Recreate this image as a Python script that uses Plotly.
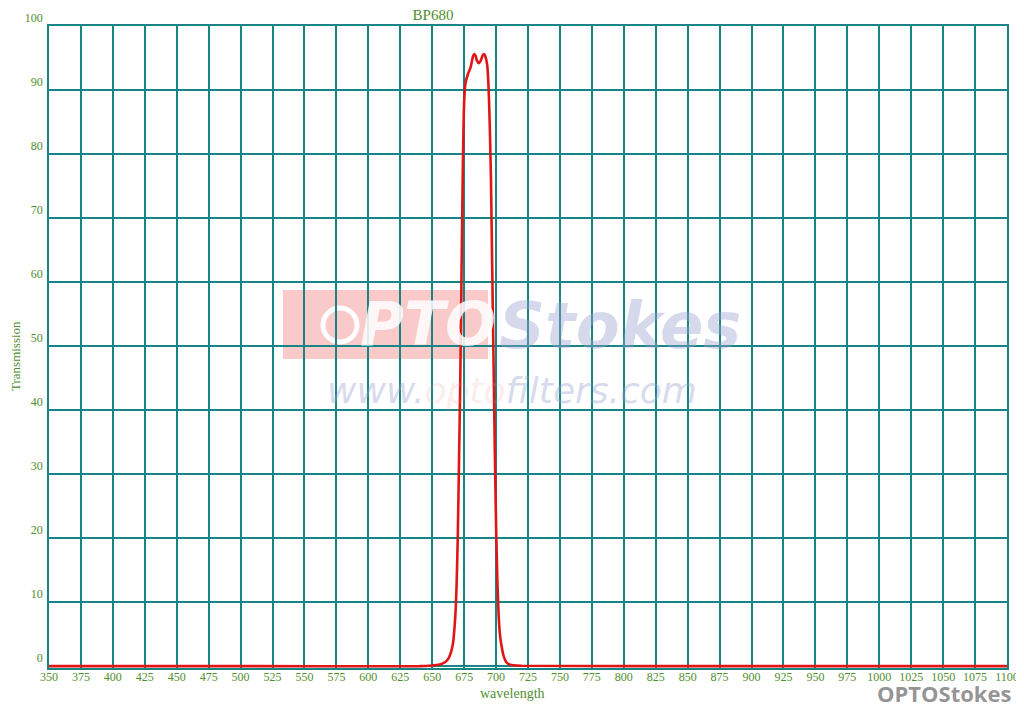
import plotly.graph_objects as go

wavelength = [350, 500, 640, 650, 655, 660, 663, 666, 668, 669, 670, 671, 672, 673, 674, 675,
              676, 678, 680, 682, 683, 684, 685, 686.5, 688, 689.5, 690.5, 691.5, 693, 694,
              695, 696, 697, 698, 699, 700, 701, 702, 703, 704, 706, 708, 711, 720, 900, 1100]
transmission = [0, 0, 0, 0.1, 0.2, 0.6, 1.3, 3.2, 7.5, 12, 20, 32, 45, 62, 78, 88,
                 91, 92.5, 93.5, 95.3, 95.6, 95.3, 94.6, 94.2, 94.6, 95.4, 95.6, 95.3, 94, 91,
                 85, 76, 62, 48, 34, 22, 13.5, 8, 5, 3.5, 1.5, 0.6, 0.2, 0.05, 0, 0]

x_ticks = list(range(350, 1101, 25))
y_ticks = list(range(0, 101, 10))

grid = "#168585"
green = "#4f8f2f"
serif = "Liberation Serif"

# page body has an 8px margin, so the figure is drawn 8px smaller and offset
W, H = 1016, 697

fig = go.Figure()
fig.add_trace(go.Scatter(x=wavelength, y=transmission, mode="lines",
                         line=dict(color="#e01515", width=2.6, shape="spline", smoothing=0.6),
                         hoverinfo="skip", showlegend=False))

fig.update_layout(
    width=W, height=H,
    margin=dict(l=41, r=17, t=18, b=37, autoexpand=False),
    paper_bgcolor="white", plot_bgcolor="white",
    title=dict(text="BP680", x=425/W, xanchor="center", y=1-1/H, yanchor="top",
               font=dict(family=serif, size=15, color=green)),
    xaxis=dict(range=[350, 1100], tickvals=x_ticks, ticktext=[str(v) for v in x_ticks],
               showgrid=True, gridcolor=grid, gridwidth=1.6, automargin=False,
               showline=True, linecolor=grid, linewidth=1.6, mirror=True,
               zeroline=False, ticks="", tickfont=dict(family=serif, size=12, color=green),
               ticklabelstandoff=-3),
    yaxis=dict(range=[-0.3, 100], tickvals=y_ticks, ticktext=[str(v) for v in y_ticks],
               showgrid=True, gridcolor=grid, gridwidth=1.6, automargin=False,
               showline=True, linecolor=grid, linewidth=1.6, mirror=True,
               zeroline=False, ticks="", ticklabelposition="outside top",
               tickfont=dict(family=serif, size=12, color=green), ticklabelstandoff=2),
)

# watermark shapes
fig.add_shape(type="rect", xref="paper", yref="paper",
              x0=(283-49)/958, x1=(488-49)/958, y0=(668-359)/642, y1=(668-290)/642,
              fillcolor="rgba(245,150,150,0.5)", line=dict(width=0), layer="below")
fig.add_shape(type="circle", xref="paper", yref="paper",
              x0=(323-49)/958, x1=(357-49)/958, y0=(668-342)/642, y1=(668-308)/642,
              line=dict(color="rgba(255,255,255,0.95)", width=5), layer="below")

fig.add_annotation(text="<b><i>PTO</i></b>", xref="paper", yref="paper",
                   x=(428-49)/958, y=(668-324)/642, xanchor="center", yanchor="middle",
                   showarrow=False,
                   font=dict(family="DejaVu Sans", size=60, color="rgba(255,255,255,0.85)"))
fig.add_annotation(text="<b><i>Stokes</i></b>", xref="paper", yref="paper",
                   x=(620-49)/958, y=(668-326)/642, xanchor="center", yanchor="middle",
                   showarrow=False,
                   font=dict(family="DejaVu Sans", size=64, color="rgba(150,160,205,0.4)"))
fig.add_annotation(text="<i>www.<span style='color:rgba(240,140,140,0.45)'>opto</span>filters.com</i>",
                   xref="paper", yref="paper", xanchor="center", yanchor="middle",
                   x=(512-49)/958, y=(668-390)/642, showarrow=False,
                   font=dict(family="DejaVu Sans", size=36, color="rgba(150,160,205,0.4)"))

fig.add_annotation(text="Transmission", xref="paper", yref="paper", textangle=-90,
                   x=(16-49)/958, y=(668-356)/642, xanchor="center", yanchor="middle",
                   showarrow=False,
                   font=dict(family=serif, size=13, color=green))
fig.add_annotation(text="wavelength", xref="paper", yref="paper",
                   x=(512-49)/958, y=(668-694)/642, xanchor="center", yanchor="middle",
                   showarrow=False,
                   font=dict(family=serif, size=14, color=green))
fig.add_annotation(text="<b>OPTOStokes</b>", xref="paper", yref="paper",
                   x=(1013-49)/958, xanchor="right", y=(668-693)/642, yanchor="middle",
                   showarrow=False, borderpad=0,
                   font=dict(family="Open Sans", size=22, color="rgba(130,130,130,0.85)"))

fig.write_html("out.html")
